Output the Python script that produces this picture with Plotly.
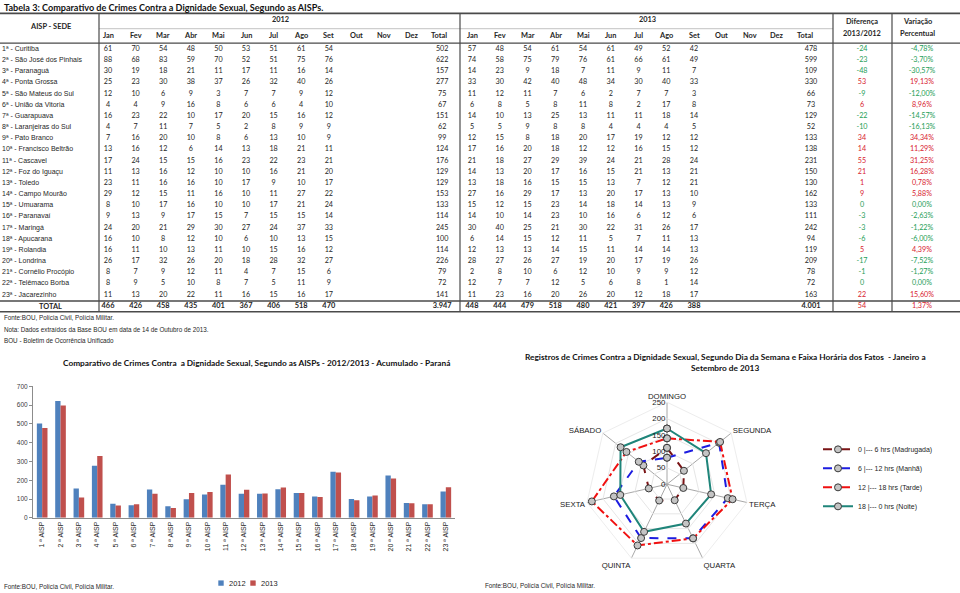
"""
Tabela 3 + gráficos: crimes contra a dignidade sexual por AISP (2012/2013).
"""
import plotly.graph_objects as go

# ── dados da tabela ───────────────────────────────────────────────────────────
MESES = ["Jan", "Fev", "Mar", "Abr", "Mai", "Jun", "Jul", "Ago", "Set", "Out", "Nov", "Dez"]

AISPS = [
    "1ª - Curitiba", "2ª - São José dos Pinhais", "3ª - Paranaguá", "4ª - Ponta Grossa",
    "5ª - São Mateus do Sul", "6ª - União da Vitoria", "7ª - Guarapuava",
    "8ª - Laranjeiras do Sul", "9ª - Pato Branco", "10ª - Francisco Beltrão",
    "11ª - Cascavel", "12ª - Foz do Iguaçu", "13ª - Toledo", "14ª - Campo Mourão",
    "15ª - Umuarama", "16ª - Paranavaí", "17ª - Maringá", "18ª - Apucarana",
    "19ª - Rolandia", "20ª - Londrina", "21ª - Cornélio Procópio",
    "22ª - Telêmaco Borba", "23ª - Jacarezinho",
]

# Jan..Set (Out, Nov, Dez sem registro)
MES_2012 = [
    [61, 70, 54, 48, 50, 53, 51, 61, 54],
    [88, 68, 83, 59, 70, 52, 51, 75, 76],
    [30, 19, 18, 21, 11, 17, 11, 16, 14],
    [25, 23, 30, 38, 37, 26, 32, 40, 26],
    [12, 10, 6, 9, 3, 7, 7, 9, 12],
    [4, 4, 9, 16, 8, 6, 6, 4, 10],
    [16, 23, 22, 10, 17, 20, 15, 16, 12],
    [4, 7, 11, 7, 5, 2, 8, 9, 9],
    [7, 16, 20, 10, 8, 6, 13, 10, 9],
    [13, 16, 12, 6, 14, 13, 18, 21, 11],
    [17, 24, 15, 15, 16, 23, 22, 23, 21],
    [11, 13, 16, 12, 10, 10, 16, 21, 20],
    [23, 11, 16, 16, 10, 17, 9, 10, 17],
    [29, 12, 15, 11, 16, 10, 11, 27, 22],
    [8, 10, 17, 16, 10, 10, 17, 21, 24],
    [9, 13, 9, 17, 15, 7, 15, 15, 14],
    [24, 20, 21, 29, 30, 27, 24, 37, 33],
    [16, 10, 8, 12, 10, 6, 10, 13, 15],
    [16, 11, 10, 13, 11, 10, 15, 16, 12],
    [26, 17, 32, 26, 20, 18, 28, 32, 27],
    [8, 7, 9, 12, 11, 4, 7, 15, 6],
    [8, 9, 5, 10, 8, 7, 5, 11, 9],
    [11, 13, 20, 22, 11, 16, 15, 16, 17],
]
MES_2013 = [
    [57, 48, 54, 61, 54, 61, 49, 52, 42],
    [74, 58, 75, 79, 76, 61, 66, 61, 49],
    [14, 23, 9, 18, 7, 11, 9, 11, 7],
    [33, 30, 42, 40, 48, 34, 30, 40, 33],
    [11, 12, 11, 7, 6, 2, 7, 7, 3],
    [6, 8, 5, 8, 11, 8, 2, 17, 8],
    [14, 10, 13, 25, 13, 11, 11, 18, 14],
    [5, 5, 9, 8, 8, 4, 4, 4, 5],
    [12, 15, 8, 18, 20, 17, 19, 12, 12],
    [17, 16, 20, 18, 12, 12, 16, 15, 12],
    [21, 18, 27, 29, 39, 24, 21, 28, 24],
    [14, 13, 20, 17, 16, 15, 21, 13, 21],
    [13, 18, 16, 15, 15, 13, 7, 12, 21],
    [27, 16, 29, 17, 13, 20, 17, 13, 10],
    [15, 12, 15, 23, 14, 18, 14, 13, 9],
    [14, 10, 14, 23, 10, 16, 6, 12, 6],
    [30, 40, 25, 21, 30, 22, 31, 26, 17],
    [6, 14, 15, 12, 11, 5, 7, 11, 13],
    [12, 13, 13, 14, 15, 11, 14, 14, 13],
    [28, 27, 26, 27, 19, 20, 17, 19, 26],
    [2, 8, 10, 6, 12, 10, 9, 9, 12],
    [12, 7, 7, 12, 5, 6, 8, 1, 14],
    [11, 23, 16, 20, 26, 20, 12, 18, 17],
]
TOTAL_2012 = [502, 622, 157, 277, 75, 67, 151, 62, 99, 124, 176, 129, 129, 153, 133,
              114, 245, 100, 114, 226, 79, 72, 141]
TOTAL_2013 = [478, 599, 109, 330, 66, 73, 129, 52, 133, 138, 231, 150, 130, 162, 133,
              111, 242, 94, 119, 209, 78, 72, 163]
TOTAL_MES_2012 = [466, 426, 458, 435, 401, 367, 406, 518, 470]
TOTAL_MES_2013 = [448, 444, 479, 518, 480, 421, 397, 426, 388]

# ── gráfico de barras ─────────────────────────────────────────────────────────
BARRAS_LABELS = [f"{i} ª AISP" for i in range(1, 24)]

# ── radar (dia da semana × faixa horária) ─────────────────────────────────────
DIAS = ["DOMINGO", "SEGUNDA", "TERÇA", "QUARTA", "QUINTA", "SEXTA", "SÁBADO"]
MADRUGADA = [111, 66, 51, 54, 55, 57, 92]
MANHA = [81, 203, 190, 183, 182, 166, 110]
TARDE = [140, 207, 205, 183, 207, 235, 158]
NOITE = [170, 152, 138, 133, 161, 146, 181]

# ── estilo ────────────────────────────────────────────────────────────────────
W, H = 960, 593
NUM_FONT = "Lato, 'Open Sans', sans-serif"
ARIAL = "'Liberation Sans', Arial, sans-serif"
TXT = "#262626"
VERDE = "#1E9E58"
VERMELHO = "#D8232F"
AZUL_12 = "#4F81BD"
VERM_13 = "#C0504D"

X_2012 = [108 + 27.6 * i for i in range(13)]
X_2013 = [472 + 27.75 * i for i in range(13)]
X_DIF, X_VAR = 862, 922
Y0, DY = 45.7, 11.3
Y_TOTAL = 306


def px_x(v):
    return v / W


def px_y(v):
    return 1 - v / H


def fmt_milhar(n):
    return f"{n:,}".replace(",", ".")


def fmt_pct(v):
    return f"{v:.2f}%".replace(".", ",")


fig = go.Figure()

# ── células da tabela (eixo em pixels) ───────────────────────────────────────
row_y = [Y0 + DY * i for i in range(len(AISPS))]

fig.add_trace(go.Scatter(
    x=[2] * len(AISPS), y=row_y, text=AISPS, mode="text",
    textposition="middle right", textfont=dict(family=ARIAL, size=7, color=TXT),
    xaxis="x3", yaxis="y3", showlegend=False, hoverinfo="skip",
))

nx, ny, nt = [], [], []
for i, y in enumerate(row_y):
    for j, v in enumerate(MES_2012[i]):
        nx.append(X_2012[j]); ny.append(y); nt.append(str(v))
    for j, v in enumerate(MES_2013[i]):
        nx.append(X_2013[j]); ny.append(y); nt.append(str(v))
    nx += [X_2012[12] + 3, X_2013[12] + 6]
    ny += [y, y]
    nt += [str(TOTAL_2012[i]), str(TOTAL_2013[i])]
fig.add_trace(go.Scatter(
    x=nx, y=ny, text=nt, mode="text", textposition="middle center",
    textfont=dict(family=NUM_FONT, size=7.2, color=TXT),
    xaxis="x3", yaxis="y3", showlegend=False, hoverinfo="skip",
))

# linha TOTAL (negrito)
tx, tt = [], []
for j, v in enumerate(TOTAL_MES_2012):
    tx.append(X_2012[j]); tt.append(f"<b>{v}</b>")
for j, v in enumerate(TOTAL_MES_2013):
    tx.append(X_2013[j]); tt.append(f"<b>{v}</b>")
tx += [X_2012[12] + 3, X_2013[12] + 6]
tt += [f"<b>{fmt_milhar(sum(TOTAL_2012))}</b>", f"<b>{fmt_milhar(sum(TOTAL_2013))}</b>"]
fig.add_trace(go.Scatter(
    x=tx, y=[Y_TOTAL] * len(tx), text=tt, mode="text", textposition="middle center",
    textfont=dict(family=NUM_FONT, size=7.4, color=TXT),
    xaxis="x3", yaxis="y3", showlegend=False, hoverinfo="skip",
))

# diferença / variação
dif = [b - a for a, b in zip(TOTAL_2012 + [sum(TOTAL_2012)], TOTAL_2013 + [sum(TOTAL_2013)])]
base = TOTAL_2012 + [sum(TOTAL_2012)]
pct = [d / b * 100 for d, b in zip(dif, base)]
cores = [VERMELHO if d > 0 else VERDE for d in dif]
dy_all = row_y + [Y_TOTAL]
fig.add_trace(go.Scatter(
    x=[X_DIF] * len(dif) + [X_VAR] * len(dif), y=dy_all + dy_all,
    text=[str(d) for d in dif] + [fmt_pct(p) for p in pct],
    mode="text", textposition="middle center",
    textfont=dict(family=NUM_FONT, size=7.2, color=cores + cores),
    xaxis="x3", yaxis="y3", showlegend=False, hoverinfo="skip",
))

# ── barras ────────────────────────────────────────────────────────────────────
fig.add_trace(go.Bar(x=BARRAS_LABELS, y=TOTAL_2012, name="2012", marker_color=AZUL_12,
                     marker_line_width=0, showlegend=False))
fig.add_trace(go.Bar(x=BARRAS_LABELS, y=TOTAL_2013, name="2013", marker_color=VERM_13,
                     marker_line_width=0, showlegend=False))

# ── radar ─────────────────────────────────────────────────────────────────────
series = [
    ("0 |--- 6 hrs (Madrugada)", MADRUGADA, "#7A1416", "dash"),
    ("6 |--- 12 hrs (Manhã)", MANHA, "#1C1CE0", "dash"),
    ("12 |--- 18 hrs (Tarde)", TARDE, "#F01010", "dashdot"),
    ("18 |--- 0 hrs (Noite)", NOITE, "#1F857A", "solid"),
]
for nome, vals, cor, dash in series:
    fig.add_trace(go.Scatterpolar(
        r=vals + vals[:1], theta=DIAS + DIAS[:1], name=nome, mode="lines+markers",
        line=dict(color=cor, width=2, dash=dash),
        marker=dict(symbol="circle", size=7, color="#C4C4C4", line=dict(color="#3A3A3A", width=1)),
        legend="legend2",
    ))

# ── linhas da tabela ─────────────────────────────────────────────────────────
shapes = []
def hline(y, x0=0, x1=W, w=1.3, c="#4A4A4A"):
    shapes.append(dict(type="line", xref="x3", yref="y3", x0=x0, x1=x1, y0=y, y1=y,
                       line=dict(color=c, width=w)))
def vline(x, y0=9.5, y1=311.5, w=1.2, c="#4A4A4A"):
    shapes.append(dict(type="line", xref="x3", yref="y3", x0=x, x1=x, y0=y0, y1=y1,
                       line=dict(color=c, width=w)))

hline(9.5, w=1.6)
hline(25, 99, 833, w=0.6, c="#9A9A9A")
hline(39.5, w=1.2)
hline(300.5, w=1.5)
hline(311.5, w=1.5)
for xv in (99, 460, 833, 892):
    vline(xv)

# legenda das barras (quadradinhos)
for xq, cor in ((221, AZUL_12), (253, VERM_13)):
    shapes.append(dict(type="rect", xref="x3", yref="y3", x0=xq - 2.7, x1=xq + 2.7,
                       y0=583.3, y1=588.7, fillcolor=cor, line=dict(width=0)))

# ── textos ────────────────────────────────────────────────────────────────────
ann = []
def txt(x, y, s, size=7.4, font=NUM_FONT, anchor="center", color=TXT):
    ann.append(dict(xref="x3", yref="y3", x=x, y=y, text=s, showarrow=False,
                    xanchor=anchor, yanchor="middle", font=dict(family=font, size=size, color=color)))

txt(2, 4, "<b>Tabela 3: Comparativo de Crimes Contra a Dignidade Sexual, Segundo as AISPs.</b>",
    size=9.1, anchor="left", color="#111")
txt(50, 23, "<b>AISP - SEDE</b>")
txt(280, 16, "<b>2012</b>")
txt(647, 16, "<b>2013</b>")
for j, m in enumerate(MESES + ["Total"]):
    txt(X_2012[j], 32, f"<b>{m}</b>")
    txt(X_2013[j], 32, f"<b>{m}</b>")
txt(862, 18, "<b>Diferença</b>")
txt(862, 30, "<b>2013/2012</b>")
txt(917, 18, "<b>Variação</b>")
txt(917, 30, "<b>Percentual</b>")
txt(50, Y_TOTAL, "<b>TOTAL</b>")
txt(2, 317.5, "Fonte:BOU, Polícia Civil, Polícia Militar.", size=6.3, font=ARIAL, anchor="left")
txt(2, 329.5, "Nota: Dados extraídos da Base BOU em data de 14 de Outubro de 2013.", size=6.3,
    font=ARIAL, anchor="left")
txt(2, 341, "BOU - Boletim de Ocorrência Unificado", size=6.3, font=ARIAL, anchor="left")

txt(256, 363, "<b>Comparativo de Crimes Contra  a Dignidade Sexual, Segundo as AISPs - 2012/2013 - Acumulado - Paraná</b>",
    size=8.3, color="#111")
txt(725, 357, "<b>Registros de Crimes Contra a Dignidade Sexual, Segundo Dia da Semana e Faixa Horária dos Fatos  - Janeiro a</b>",
    size=8.3, color="#111")
txt(725, 368.5, "<b>Setembro de 2013</b>", size=8.3, color="#111")
txt(2, 589, "Fonte:BOU, Polícia Civil, Polícia Militar.", size=6.3, font=ARIAL, anchor="left")
txt(483, 588, "Fonte:BOU, Polícia Civil, Polícia Militar.", size=6.3, font=ARIAL, anchor="left")
txt(227, 586, "2012", size=7.5, font=ARIAL, anchor="left")
txt(259, 586, "2013", size=7.5, font=ARIAL, anchor="left")

fig.update_layout(
    width=W, height=H,
    margin=dict(l=0, r=0, t=0, b=0),
    paper_bgcolor="white", plot_bgcolor="rgba(0,0,0,0)",
    font=dict(family=ARIAL, size=7, color=TXT),
    shapes=shapes, annotations=ann,
    barmode="group", bargap=0.42, bargroupgap=0,
    xaxis=dict(domain=[px_x(33), px_x(455)], tickangle=-90, showline=True, linecolor="#8C8C8C",
               linewidth=1, ticks="", tickfont=dict(family=ARIAL, size=7, color="#262626"),
               fixedrange=True),
    yaxis=dict(domain=[px_y(520), px_y(387)], range=[0, 700], dtick=100, tickformat="d",
               showgrid=False, showline=True, linecolor="#8C8C8C", linewidth=1,
               ticks="outside", ticklen=3, tickcolor="#8C8C8C",
               tickfont=dict(family=ARIAL, size=6.5, color="#404040"),
               zeroline=False, fixedrange=True),
    xaxis3=dict(domain=[0, 1], range=[0, W], visible=False, fixedrange=True),
    yaxis3=dict(domain=[0, 1], range=[H, 0], visible=False, fixedrange=True),
    polar=dict(
        domain=dict(x=[px_x(584), px_x(750)], y=[px_y(569), px_y(403)]),
        bgcolor="white",
        angularaxis=dict(direction="clockwise", rotation=90, gridcolor="#A8A8A8",
                         linecolor="#EDEDED", showline=True,
                         tickfont=dict(family=ARIAL, size=7.8, color="#1A1A1A"), ticks=""),
        radialaxis=dict(range=[0, 250], dtick=50, angle=90, tickangle=90, showline=False,
                        ticks="", gridcolor="#E6E6E6",
                        tickfont=dict(family=ARIAL, size=7.8, color="#1A1A1A"),
                        side="counterclockwise"),
        gridshape="linear",
    ),
    legend2=dict(x=px_x(818), y=px_y(436), xanchor="left", yanchor="top",
                 font=dict(family=ARIAL, size=7, color="#262626"), bgcolor="rgba(0,0,0,0)",
                 tracegroupgap=0, itemwidth=30),
)

fig.write_html("out.html", config={"displayModeBar": False},
               post_script="document.body.style.margin='0px';")
